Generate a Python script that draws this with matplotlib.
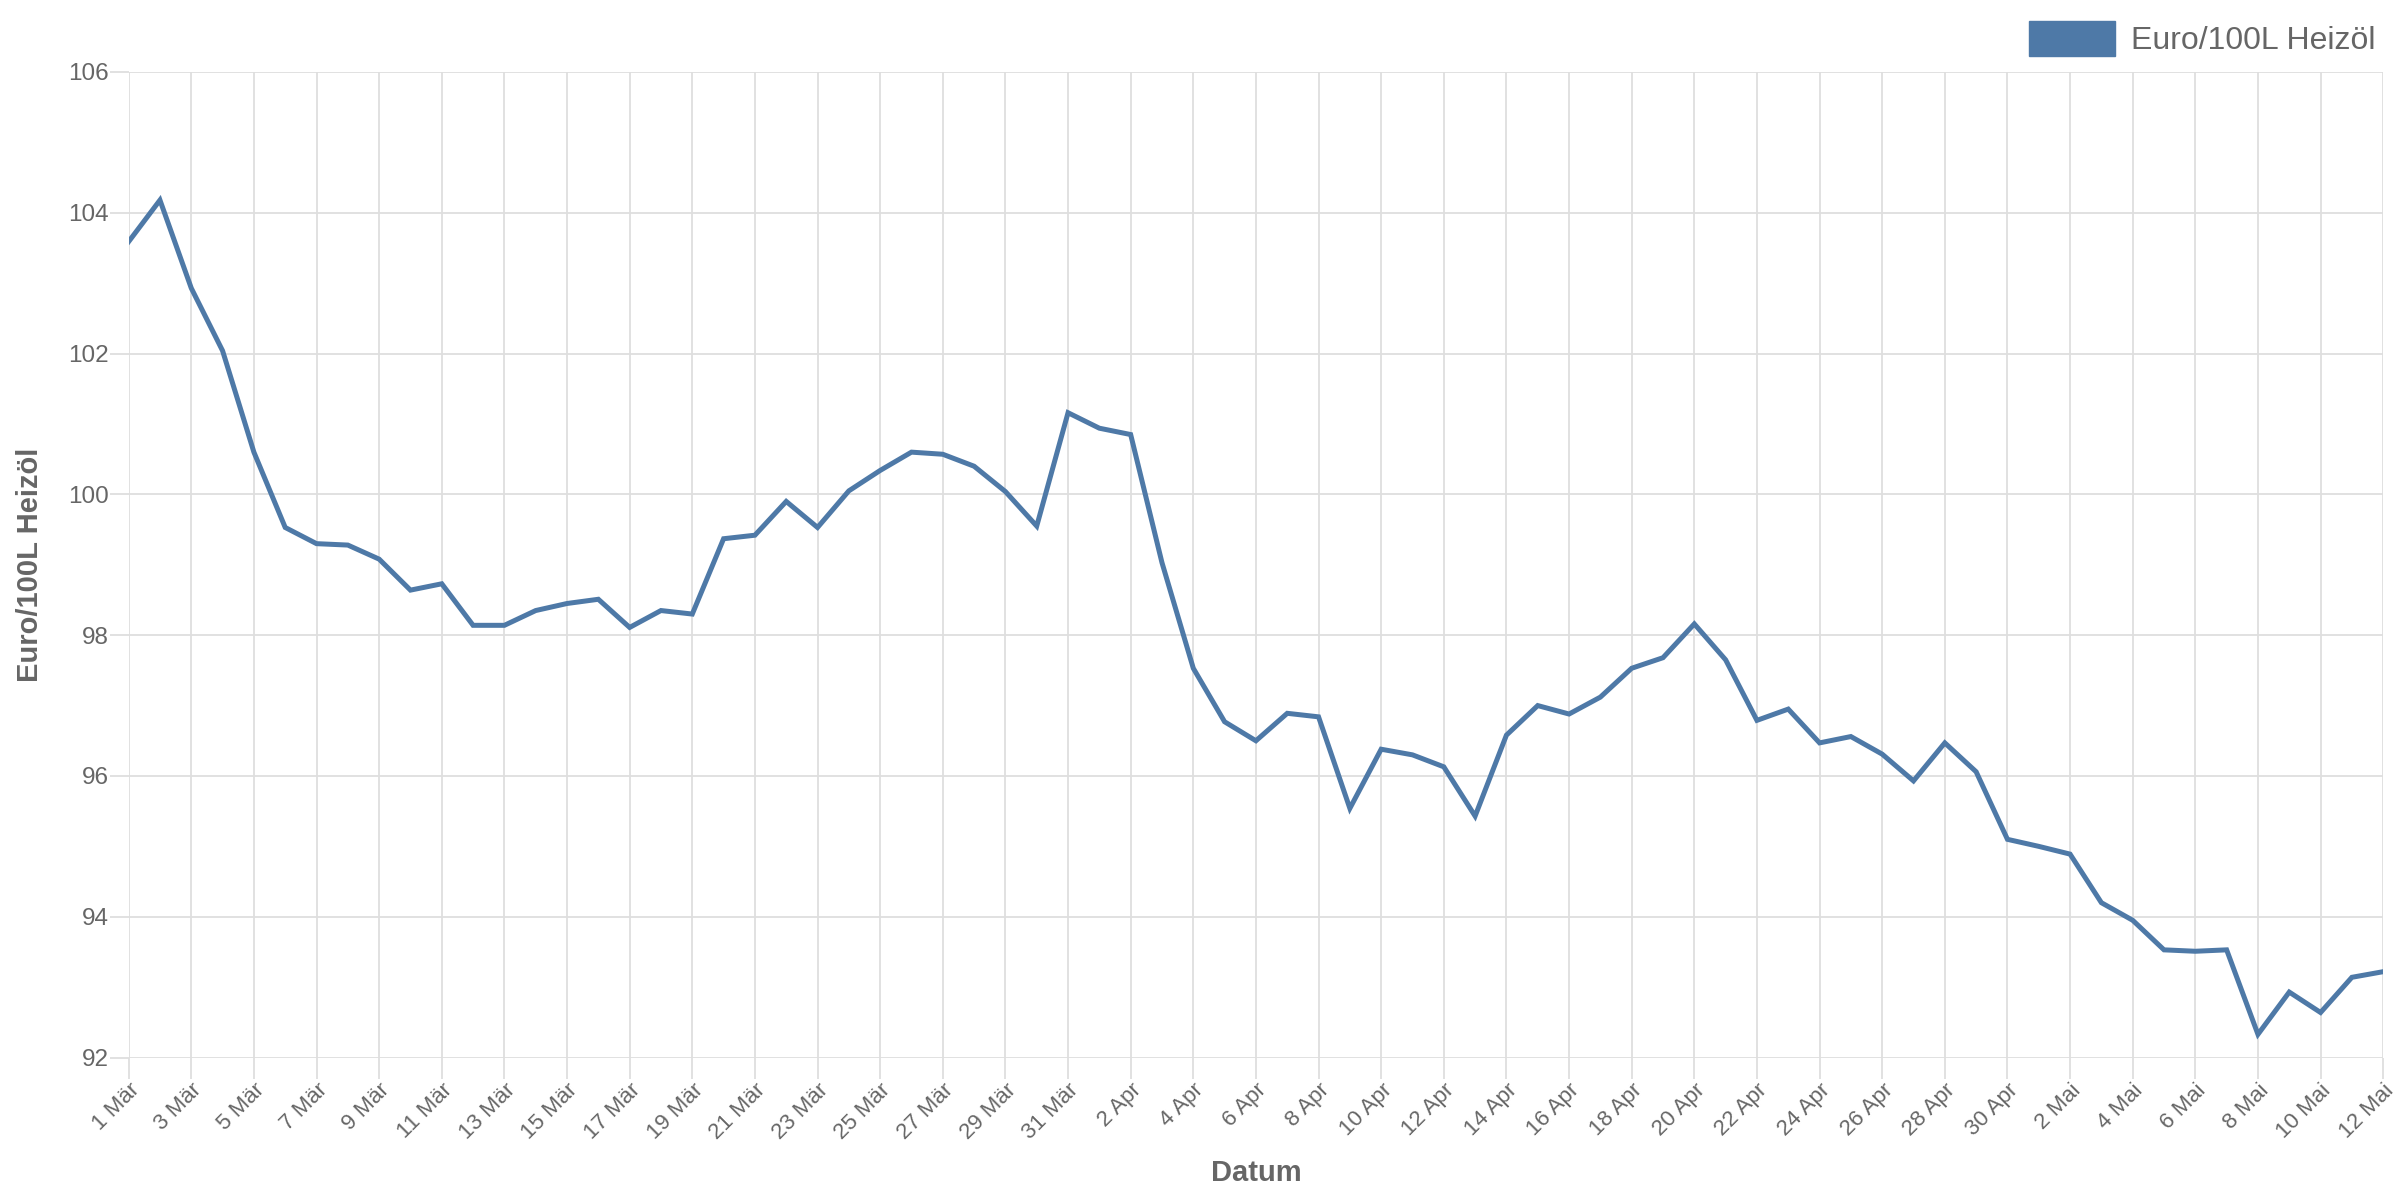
import matplotlib
matplotlib.use("Agg")
import matplotlib.pyplot as plt
from matplotlib.patches import Patch

# ---- data ----
maerz = [103.59, 104.18, 102.93, 102.04, 100.60, 99.53, 99.30, 99.28, 99.08, 98.64,
         98.73, 98.14, 98.14, 98.35, 98.45, 98.51, 98.11, 98.35, 98.30, 99.37,
         99.42, 99.90, 99.53, 100.05, 100.34, 100.60, 100.57, 100.40, 100.04, 99.55,
         101.16]
april = [100.94, 100.85, 99.03, 97.53, 96.77, 96.50, 96.89, 96.84, 95.54, 96.38,
         96.30, 96.13, 95.43, 96.58, 97.00, 96.88, 97.12, 97.53, 97.68, 98.16,
         97.65, 96.79, 96.95, 96.47, 96.56, 96.31, 95.93, 96.47, 96.06, 95.10]
mai = [95.00, 94.89, 94.20, 93.95, 93.53, 93.51, 93.53, 92.33, 92.93, 92.64,
       93.14, 93.22]

dates = ([f"{d} Mär" for d in range(1, 32)] +
         [f"{d} Apr" for d in range(1, 31)] +
         [f"{d} Mai" for d in range(1, 13)])
values = maerz + april + mai
series_name = "Euro/100L Heizöl"
y_ticks = [92, 94, 96, 98, 100, 102, 104, 106]

# ---- style ----
color = "#4e79a7"
grey = "#666666"
gridc = "#dedede"
font = "Liberation Sans"

fig = plt.figure(figsize=(24, 12), dpi=100)
ax = fig.add_axes([0.0536, 0.1187, 0.9394, 0.8213])

x = list(range(len(values)))
ax.plot(x, values, color=color, lw=3.6, solid_joinstyle="miter", zorder=3)

ax.set_xlim(0, len(values) - 1)
ax.set_ylim(92, 106)
ax.set_yticks(y_ticks)
ax.set_yticklabels([str(v) for v in y_ticks], fontsize=17.5, color=grey, family=font)
ax.set_xticks(x[::2])
ax.set_xticklabels(dates[::2], rotation=45, ha="right", rotation_mode="anchor",
                   fontsize=16, color=grey, family=font)

ax.grid(True, color=gridc, lw=1.3)
ax.set_axisbelow(True)
for s in ax.spines.values():
    s.set_visible(False)
ax.tick_params(axis="x", color=gridc, length=15, width=1.3, pad=1)
ax.tick_params(axis="y", color=gridc, length=14, width=1.3, pad=0.5)

ax.set_ylabel(series_name, fontsize=21, color=grey, family=font, fontweight="bold",
              labelpad=17)
ax.set_xlabel("Datum", fontsize=21, color=grey, family=font, fontweight="bold",
              labelpad=11)

leg = ax.legend(handles=[Patch(facecolor=color, edgecolor=color, label=series_name)],
                loc="lower right", bbox_to_anchor=(0.998, 1.013), frameon=False,
                fontsize=23, handlelength=2.7, handleheight=1.3, handletextpad=0.5,
                borderaxespad=0.0, borderpad=0.1)
for t in leg.get_texts():
    t.set_color(grey)
    t.set_family(font)

fig.savefig("out.png", dpi=100, facecolor="white")
